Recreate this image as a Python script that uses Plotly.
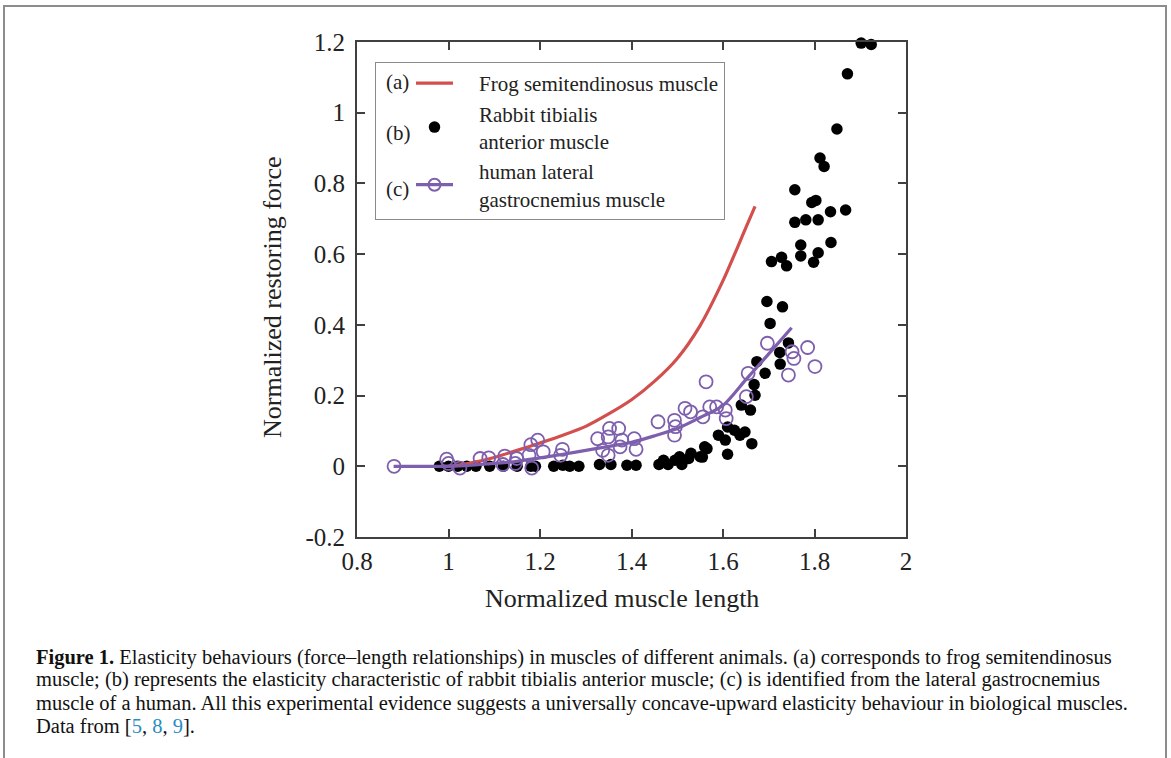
import plotly.graph_objects as go

# ---------------- data ----------------
frog_x = [1.00, 1.05, 1.10, 1.15, 1.20, 1.25, 1.30, 1.35, 1.40, 1.45, 1.50, 1.55, 1.60, 1.65, 1.67]
frog_y = [0.000, 0.010, 0.025, 0.045, 0.066, 0.088, 0.113, 0.148, 0.188, 0.240, 0.305, 0.398, 0.525, 0.675, 0.735]

human_fit_x = [0.88, 1.00, 1.05, 1.10, 1.15, 1.20, 1.25, 1.30, 1.35, 1.40, 1.45, 1.50, 1.55, 1.60, 1.65, 1.70, 1.75]
human_fit_y = [0.000, 0.000, 0.003, 0.008, 0.014, 0.024, 0.034, 0.045, 0.056, 0.068, 0.086, 0.107, 0.138, 0.172, 0.245, 0.318, 0.392]

human_x = [0.881, 0.996, 1.000, 1.025, 1.069, 1.088, 1.123, 1.119, 1.146, 1.149, 1.180, 1.195, 1.182,
           1.176, 1.207, 1.249, 1.245, 1.326, 1.337, 1.349, 1.352, 1.372, 1.349, 1.379, 1.375, 1.406,
           1.410, 1.458, 1.494, 1.494, 1.496, 1.517, 1.529, 1.556, 1.563, 1.571, 1.586, 1.605, 1.607,
           1.651, 1.655, 1.697, 1.751, 1.755, 1.743, 1.785, 1.801]
human_y = [0.000, 0.020, 0.008, -0.005, 0.022, 0.024, 0.029, 0.005, 0.008, 0.022, 0.061, 0.074, -0.005,
           0.031, 0.041, 0.048, 0.031, 0.078, 0.045, 0.031, 0.107, 0.107, 0.083, 0.074, 0.055, 0.078,
           0.048, 0.126, 0.130, 0.088, 0.112, 0.164, 0.154, 0.140, 0.239, 0.168, 0.168, 0.159, 0.135,
           0.197, 0.263, 0.348, 0.324, 0.305, 0.258, 0.336, 0.282]

rabbit_x = [0.98, 1.00, 1.02, 1.04, 1.06, 1.09, 1.12, 1.15, 1.18, 1.19, 1.23, 1.25, 1.265, 1.285,
            1.33, 1.355, 1.39, 1.41, 1.46, 1.47, 1.48, 1.495, 1.505, 1.51, 1.525, 1.53, 1.55, 1.56,
            1.565, 1.555, 1.59, 1.605, 1.61, 1.61, 1.625, 1.637, 1.648, 1.663, 1.64, 1.66, 1.67,
            1.668, 1.674, 1.692, 1.725, 1.724, 1.743, 1.703, 1.696, 1.730, 1.706, 1.728, 1.739,
            1.757, 1.757, 1.770, 1.770, 1.781, 1.794, 1.803, 1.798, 1.808, 1.808, 1.835, 1.836,
            1.868, 1.812, 1.821, 1.849, 1.872, 1.902, 1.924]
rabbit_y = [0.000, 0.000, 0.000, 0.000, 0.000, 0.000, 0.000, 0.000, 0.000, 0.000, 0.000, 0.003, 0.000, 0.000,
            0.005, 0.005, 0.003, 0.003, 0.005, 0.017, 0.005, 0.017, 0.027, 0.005, 0.022, 0.037, 0.027, 0.055,
            0.050, 0.026, 0.088, 0.074, 0.034, 0.111, 0.102, 0.088, 0.097, 0.064, 0.173, 0.159, 0.201,
            0.231, 0.296, 0.263, 0.289, 0.322, 0.349, 0.404, 0.466, 0.451, 0.579, 0.591, 0.567,
            0.690, 0.782, 0.626, 0.595, 0.697, 0.746, 0.752, 0.577, 0.604, 0.697, 0.720, 0.633,
            0.725, 0.872, 0.848, 0.954, 1.110, 1.197, 1.193]

x_ticks = [0.8, 1.0, 1.2, 1.4, 1.6, 1.8, 2.0]
x_tick_text = ["0.8", "1", "1.2", "1.4", "1.6", "1.8", "2"]
y_ticks = [-0.2, 0.0, 0.2, 0.4, 0.6, 0.8, 1.0, 1.2]
y_tick_text = ["-0.2", "0", "0.2", "0.4", "0.6", "0.8", "1", "1.2"]

RED = "#d24f4d"
PURPLE = "#7d5fad"
SERIF = "Liberation Serif, Times New Roman, serif"
SP = "\u00a0" * 4

fig = go.Figure()

fig.add_trace(go.Scatter(
    x=rabbit_x, y=rabbit_y, mode="markers", name=SP + "Rabbit tibialis<br>" + SP + "anterior muscle",
    marker=dict(color="black", size=11.5, line=dict(width=0)), cliponaxis=False, legendrank=2))

fig.add_trace(go.Scatter(
    x=frog_x, y=frog_y, mode="lines", name=SP + "Frog semitendinosus muscle",
    line=dict(color=RED, width=3.2, shape="spline", smoothing=0.8), legendrank=1))

fig.add_trace(go.Scatter(
    x=human_fit_x, y=human_fit_y, mode="lines", showlegend=False,
    line=dict(color=PURPLE, width=3.2, shape="spline", smoothing=0.8)))

fig.add_trace(go.Scatter(
    x=human_x, y=human_y, mode="markers", showlegend=False,
    marker=dict(symbol="circle-open", color=PURPLE, size=13, line=dict(width=1.8)), cliponaxis=False))

# legend-only entry for (c)
fig.add_trace(go.Scatter(
    x=[None], y=[None], mode="lines+markers", name=SP + "human lateral<br>" + SP + "gastrocnemius muscle",
    line=dict(color=PURPLE, width=3.2),
    marker=dict(symbol="circle-open", color=PURPLE, size=12, line=dict(width=2)), legendrank=3))

axis_common = dict(
    showline=True, linecolor="#404040", linewidth=2, mirror="allticks",
    ticks="inside", ticklen=8, tickwidth=1.5, tickcolor="#404040",
    showgrid=False, zeroline=False,
    tickfont=dict(family=SERIF, size=25, color="#222"),
)

fig.update_xaxes(range=[0.8, 2.0], tickmode="array", tickvals=x_ticks, ticktext=x_tick_text,
                 ticklabelstandoff=1, **axis_common)
fig.update_yaxes(range=[-0.2, 1.2], tickmode="array", tickvals=y_ticks, ticktext=y_tick_text,
                 ticklabelstandoff=5, **axis_common)

L, R, T, B = 357, 906, 42, 537
W, H = 1171, 758

def px(xp):
    return (xp - L) / (R - L)

def py(yp):
    return (B - yp) / (B - T)

annotations = [
    dict(text="Normalized muscle length", x=px(622), y=py(598), xref="paper", yref="paper",
         showarrow=False, font=dict(family=SERIF, size=26, color="#222"), xanchor="center", yanchor="middle"),
    dict(text="Normalized restoring force", x=px(272), y=py(297), xref="paper", yref="paper",
         showarrow=False, textangle=-90, font=dict(family=SERIF, size=26, color="#222"),
         xanchor="center", yanchor="middle"),
]

for lab, yy in [("(a)", 82), ("(b)", 133), ("(c)", 189)]:
    annotations.append(dict(text=lab, x=px(384), y=py(yy), xref="paper", yref="paper", showarrow=False,
                            font=dict(family=SERIF, size=21, color="#222"), xanchor="left", yanchor="middle"))

blue = "#2a8bc6"
caption_lines = [
    "<b>Figure 1.</b> Elasticity behaviours (force–length relationships) in muscles of different animals. (a) corresponds to frog semitendinosus",
    "muscle; (b) represents the elasticity characteristic of rabbit tibialis anterior muscle; (c) is identified from the lateral gastrocnemius",
    "muscle of a human. All this experimental evidence suggests a universally concave-upward elasticity behaviour in biological muscles.",
    f"Data from [<span style='color:{blue}'>5</span>, <span style='color:{blue}'>8</span>, <span style='color:{blue}'>9</span>].",
]
for i, line in enumerate(caption_lines):
    annotations.append(dict(text=line, x=px(34), y=py(657 + 23 * i), xref="paper", yref="paper",
                            showarrow=False, font=dict(family=SERIF, size=20.5, color="#111"),
                            xanchor="left", yanchor="middle", align="left"))

shapes = [
    dict(type="rect", xref="paper", yref="paper", x0=px(4), x1=px(1166), y0=py(775), y1=py(6),
         line=dict(color="#8c8c8c", width=2), fillcolor="rgba(0,0,0,0)", layer="below"),
]

fig.update_layout(
    width=W, height=H,
    margin=dict(l=L, r=W - R, t=T, b=H - B),
    paper_bgcolor="white", plot_bgcolor="white",
    annotations=annotations, shapes=shapes,
    legend=dict(x=px(375), y=py(62), xanchor="left", yanchor="top",
                bordercolor="#8a8a8a", borderwidth=1, bgcolor="white",
                font=dict(family=SERIF, size=21, color="#222"),
                indentation=35, itemwidth=37, tracegroupgap=6),
    showlegend=True,
)

fig.write_html("out.html", config={"displayModeBar": False},
               post_script="document.body.style.margin='0';document.body.style.overflow='hidden';")
